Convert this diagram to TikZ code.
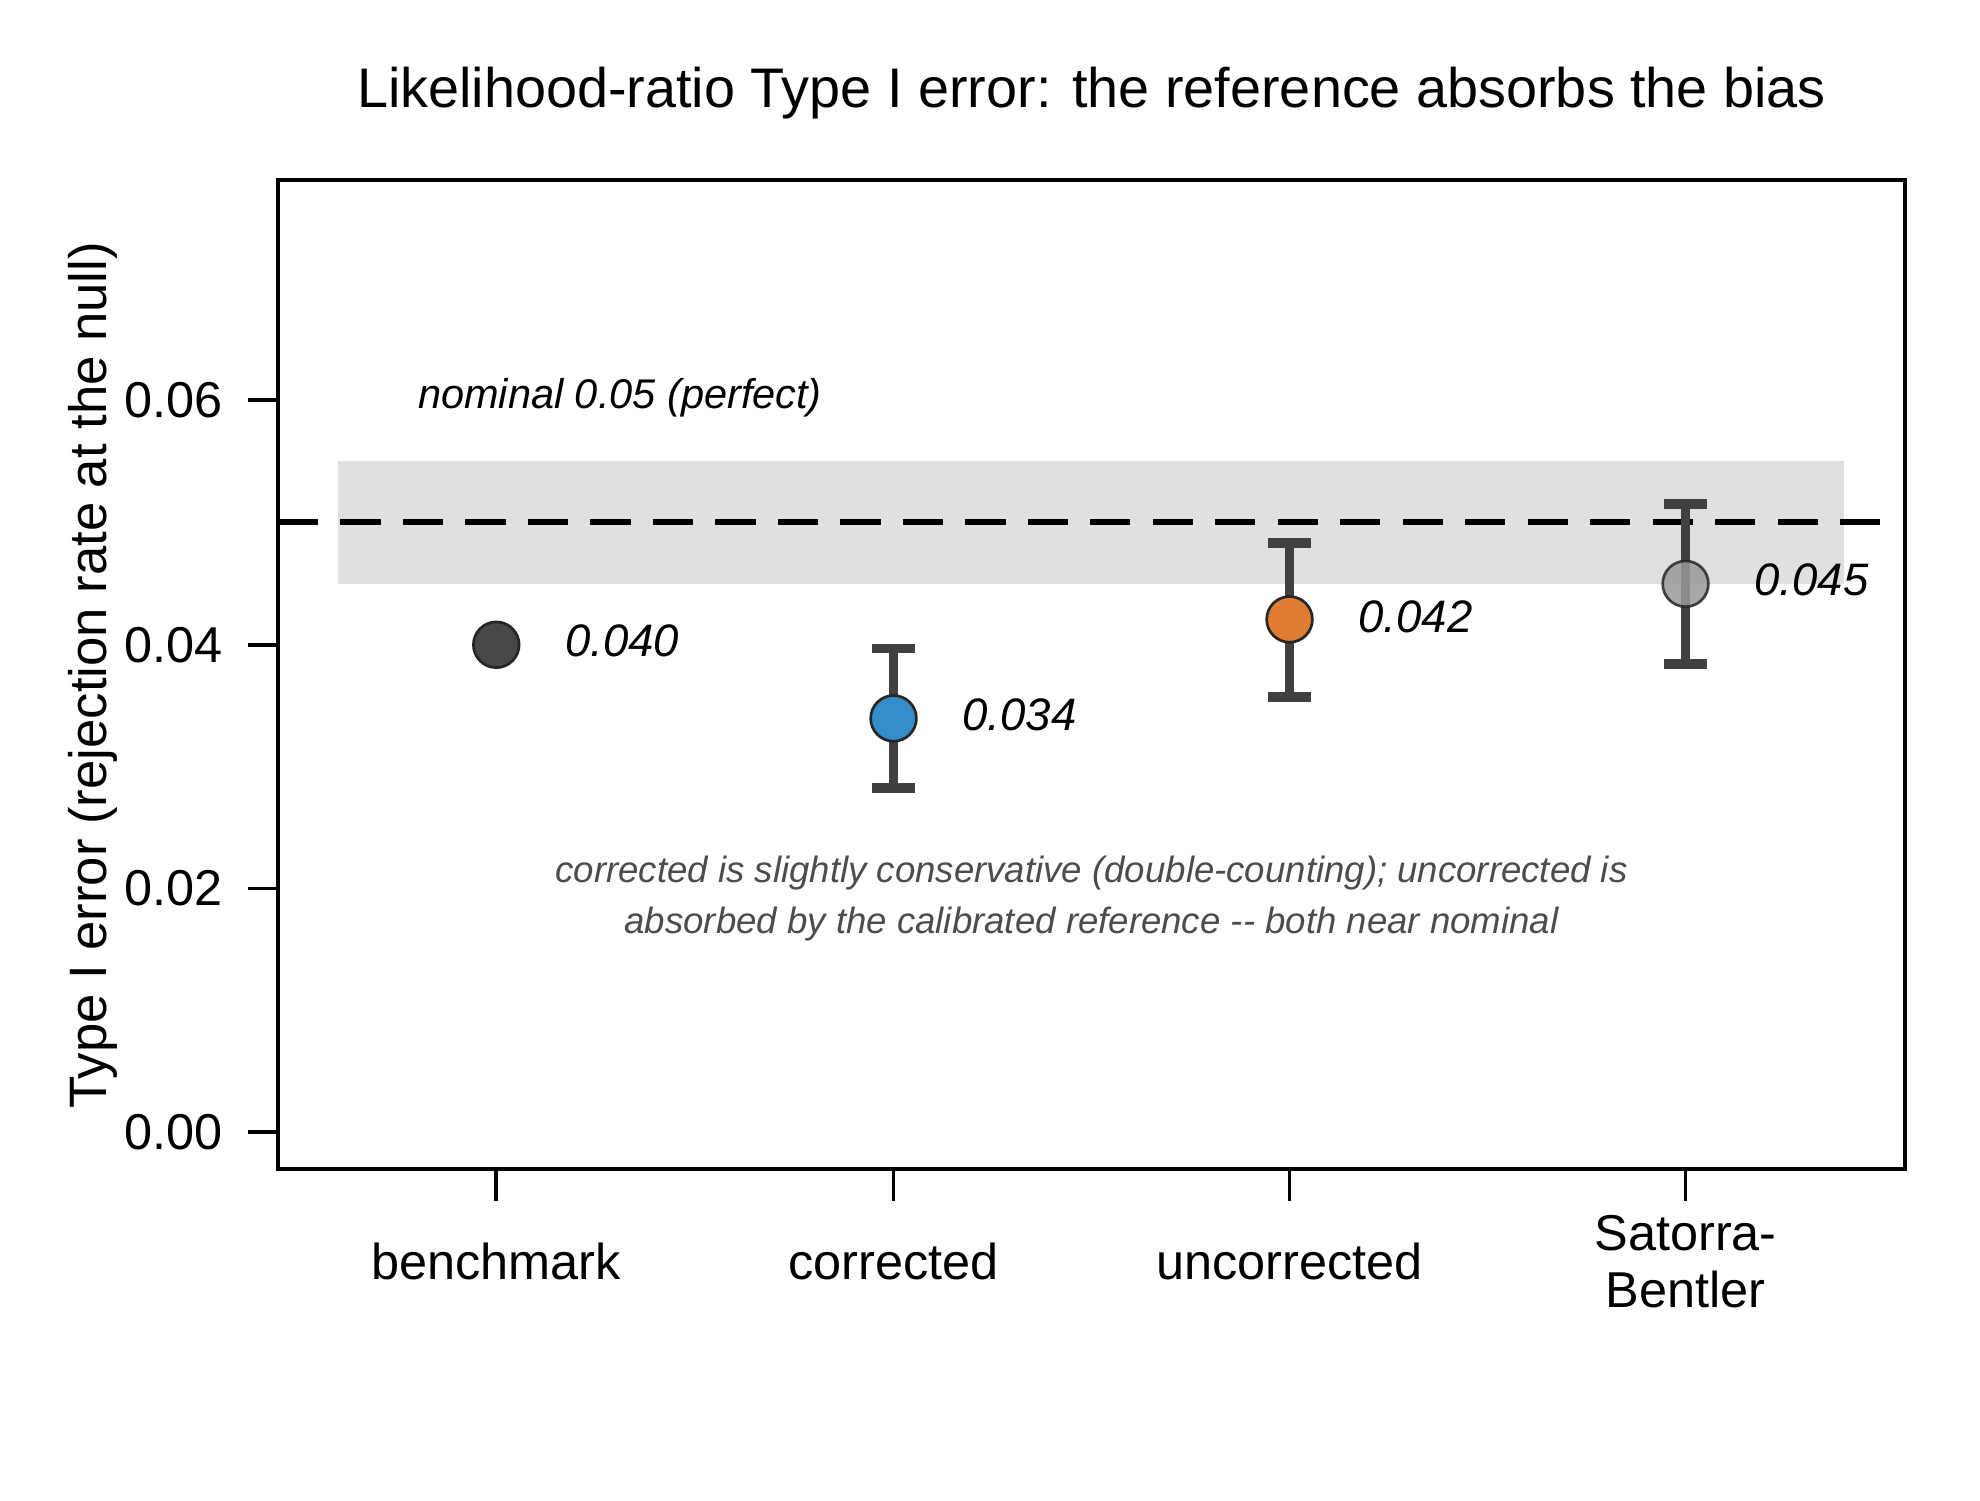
\documentclass[tikz,border=0pt]{standalone}
\usepackage{fontspec}
\setmainfont{Liberation Sans}
\definecolor{cblue}{RGB}{52,140,200}
\definecolor{corange}{RGB}{225,125,50}
\begin{document}
\begin{tikzpicture}[x=0.01cm,y=-0.01cm,
 bar/.style={line width=2.2pt,draw=black!75},
 pt/.style={circle,draw=black!85,line width=0.6pt,minimum size=0.36cm,inner sep=0},
 val/.style={anchor=west,font=\fontsize{10.2}{12}\selectfont\itshape},
 tk/.style={font=\fontsize{11.3}{13}\selectfont},
 cat/.style={font=\fontsize{11.3}{13}\selectfont,align=center}]
\useasboundingbox (0,0) rectangle (1560,1182);
\node[font=\fontsize{12.5}{14}\selectfont] (title) at (860,73) {Likelihood-ratio Type I error: the reference absorbs the bias};
\fill[black!12] (266,363) rectangle (1453,460);
\draw[line width=1.3pt,dash pattern=on 9pt off 5pt] (219,411) -- (1501,411);
\draw[line width=0.8pt] (219,142) rectangle (1501,921);
\foreach \y/\l in {892/0.00,700/0.02,508/0.04,315/0.06}{
 \draw[line width=0.8pt] (195,\y) -- (219,\y);
 \node[tk,anchor=east] at (188,\y) {\l};}
\foreach \x in {391,704,1016,1328} \draw[line width=0.8pt] (\x,921) -- (\x,946);
\node[cat] (c1) at (391,994) {benchmark};
\node[cat] (c2) at (704,994) {corrected};
\node[cat] (c3) at (1016,994) {uncorrected};
\node[cat,font=\fontsize{11.3}{12.8}\selectfont] (c4) at (1328,994) {Satorra-\\Bentler};
\node[rotate=90,font=\fontsize{11.8}{14}\selectfont] (yl) at (73,532) {Type I error (rejection rate at the null)};
\node[anchor=west,font=\fontsize{9.3}{11}\selectfont\itshape] (nom) at (317,313) {nominal 0.05 (perfect)};
\foreach \x/\a/\b in {704/511/621,1016/428/549,1328/397/523}{
 \draw[bar] (\x,\a) -- (\x,\b);
 \draw[bar] (\x-17,\a) -- (\x+17,\a);
 \draw[bar] (\x-17,\b) -- (\x+17,\b);}
\node[pt,fill=black!72] (p1) at (391,508) {};
\node[pt,fill=cblue] (p2) at (704,566) {};
\node[pt,fill=corange] (p3) at (1016,488) {};
\node[pt,fill=black!40,opacity=0.85] (p4) at (1328,460) {};
\node[val] at (433,505) {0.040};
\node[val] at (746,563) {0.034};
\node[val] at (1058,486) {0.042};
\node[val] at (1370,457) {0.045};
\node[align=center,text=black!70,font=\fontsize{8.2}{11.5}\selectfont\itshape] (note) at (860,708) {corrected is slightly conservative (double-counting); uncorrected is\\absorbed by the calibrated reference {-}{-} both near nominal};
\end{tikzpicture}
\end{document}
